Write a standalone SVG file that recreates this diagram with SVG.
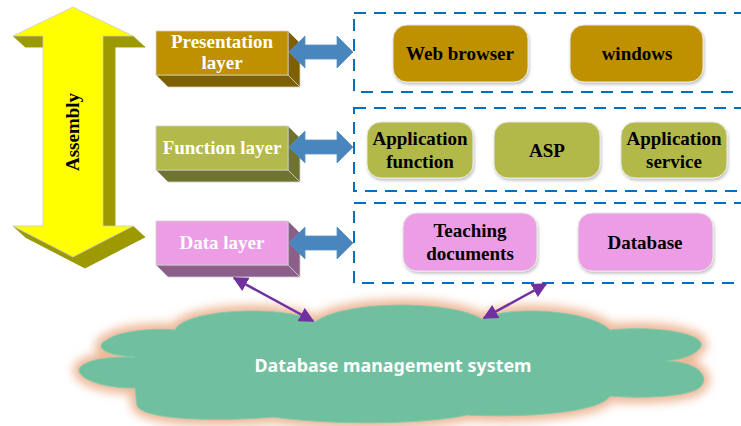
<svg xmlns="http://www.w3.org/2000/svg" width="741" height="426" viewBox="0 0 741 426">
<defs>
<style>
.lt{font-family:"Liberation Serif","Times New Roman",serif;font-weight:bold;font-size:19px;fill:#fff;text-anchor:middle}
.nt{font-family:"Liberation Serif","Times New Roman",serif;font-weight:bold;font-size:19px;fill:#000;text-anchor:middle}
.dash{fill:none;stroke:#0070C0;stroke-width:2;stroke-dasharray:12 8}
.edge{stroke:#d0d0d0;stroke-width:0.8}
.barrow{fill:#4A86BE;stroke:#5B8FC0;stroke-width:0.8}
.purple{stroke:#7030A0;stroke-width:2.5;fill:none;marker-start:url(#ph);marker-end:url(#ph)}
.pres{fill:#BF9000}
.func{fill:#B3B94A}
.data{fill:#EC9DE6}
.node{stroke:#e8e8e8;stroke-width:1;filter:url(#sh)}
</style>
<marker id="ph" viewBox="0 0 10 10" refX="9" refY="5" markerWidth="6" markerHeight="6" orient="auto-start-reverse" markerUnits="strokeWidth">
<path d="M0,0 L10,5 L0,10 Z" fill="#7030A0"/>
</marker>
<filter id="sh" x="-10%" y="-10%" width="130%" height="140%">
<feDropShadow dx="1" dy="2" stdDeviation="1.5" flood-color="#000" flood-opacity="0.25"/>
</filter>
<filter id="glow" x="-10%" y="-20%" width="120%" height="140%">
<feGaussianBlur stdDeviation="5"/>
</filter>
</defs>

<g id="assembly">
<g fill="#9C9A00" stroke="#9C9A00" stroke-width="0.5">
<polygon points="85,18 145,47 115,47 115,237 145,237 85,268 25,237 55,237 55,47 25,47"/>
<polygon points="13,36 43,36 55,47 25,47"/>
<polygon points="103,36 133,36 145,47 115,47"/>
<polygon points="103,36 103,226 115,237 115,47"/>
<polygon points="133,226 73,257 85,268 145,237"/>
<polygon points="73,257 13,226 25,237 85,268"/>
</g>
<polygon points="73,7 133,36 103,36 103,226 133,226 73,257 13,226 43,226 43,36 13,36" fill="#FFFF00" stroke="#cccccc" stroke-width="0.8"/>
<text x="0" y="0" transform="translate(79,132) rotate(-90)" style="font-family:'Liberation Serif','Times New Roman',serif;font-weight:bold;font-size:19px;fill:#000;text-anchor:middle">Assembly</text>
</g>

<g id="presentation-layer">
<polygon points="156,75 288,75 300,87 168,87" fill="#7F6000" class="edge"/>
<polygon points="288,31 300,43 300,87 288,75" fill="#7F6000" class="edge"/>
<rect x="156" y="31" width="132" height="44" class="pres edge"/>
<text class="lt" x="222" y="48">Presentation</text>
<text class="lt" x="222" y="69">layer</text>
</g>

<g id="function-layer">
<polygon points="156,170 288,170 300,182 168,182" fill="#6F7330" class="edge"/>
<polygon points="288,126 300,138 300,182 288,170" fill="#6F7330" class="edge"/>
<rect x="156" y="126" width="132" height="44" class="func edge"/>
<text class="lt" x="222" y="154">Function layer</text>
</g>

<g id="data-layer">
<polygon points="156,265 288,265 300,277 168,277" fill="#8E5E8A" class="edge"/>
<polygon points="288,221 300,233 300,277 288,265" fill="#8E5E8A" class="edge"/>
<rect x="156" y="221" width="132" height="44" class="data edge"/>
<text class="lt" x="222" y="249">Data layer</text>
</g>

<g id="presentation-group">
<rect x="354" y="13" width="400" height="79" class="dash"/>
</g>
<g id="function-group">
<rect x="354" y="108" width="400" height="83" class="dash"/>
</g>
<g id="data-group">
<rect x="354" y="203" width="400" height="80" class="dash"/>
</g>

<g id="web-browser">
<rect x="393" y="25" width="135" height="57" rx="14" class="pres node"/>
<text class="nt" x="460" y="60">Web browser</text>
</g>
<g id="windows">
<rect x="570" y="25" width="133" height="57" rx="14" class="pres node"/>
<text class="nt" x="637" y="60">windows</text>
</g>
<g id="application-function">
<rect x="367" y="122" width="106" height="56" rx="14" class="func node"/>
<text class="nt" x="420" y="145">Application</text>
<text class="nt" x="420" y="168">function</text>
</g>
<g id="asp">
<rect x="494" y="122" width="106" height="56" rx="14" class="func node"/>
<text class="nt" x="547" y="157">ASP</text>
</g>
<g id="application-service">
<rect x="621" y="122" width="106" height="56" rx="14" class="func node"/>
<text class="nt" x="674" y="145">Application</text>
<text class="nt" x="674" y="168">service</text>
</g>
<g id="teaching-documents">
<rect x="403" y="213" width="134" height="58" rx="14" class="data node"/>
<text class="nt" x="470" y="237">Teaching</text>
<text class="nt" x="470" y="260">documents</text>
</g>
<g id="database">
<rect x="578" y="213" width="135" height="58" rx="14" class="data node"/>
<text class="nt" x="645" y="249">Database</text>
</g>

<g id="dbms">
<path d="M175,330 C185,308 290,305 315,322 C345,300 450,300 482,319 C510,305 590,310 610,330 C660,325 715,335 698,350 C690,358 675,360 667,361 C705,362 715,385 690,392 C670,398 630,398 610,396 C600,412 530,418 467,415 C420,425 330,425 273,417 C220,422 140,420 137,405 L135,388 C90,388 70,372 83,365 C95,357 120,357 135,357 C100,355 95,345 107,340 C120,330 160,328 175,330 Z" fill="#EDB898" stroke="#EDB898" stroke-width="12" filter="url(#glow)"/>
<path d="M175,330 C185,308 290,305 315,322 C345,300 450,300 482,319 C510,305 590,310 610,330 C660,325 715,335 698,350 C690,358 675,360 667,361 C705,362 715,385 690,392 C670,398 630,398 610,396 C600,412 530,418 467,415 C420,425 330,425 273,417 C220,422 140,420 137,405 L135,388 C90,388 70,372 83,365 C95,357 120,357 135,357 C100,355 95,345 107,340 C120,330 160,328 175,330 Z" fill="#70BF9F" stroke="#86C8AC" stroke-width="1"/>
<text x="393" y="372" textLength="277" lengthAdjust="spacingAndGlyphs" style="font-family:'Noto Sans','Open Sans',sans-serif;font-weight:bold;font-size:17px;fill:#fff;text-anchor:middle">Database management system</text>
</g>

<g id="connectors">
<polygon class="barrow" points="289,52 305,36 305,45 337,45 337,36 353,52 337,68 337,59 305,59 305,68"/>
<polygon class="barrow" points="289,147 305,131 305,140 337,140 337,131 353,147 337,163 337,154 305,154 305,163"/>
<polygon class="barrow" points="289,243 305,227 305,236 337,236 337,227 353,243 337,259 337,250 305,250 305,259"/>
<line class="purple" x1="234" y1="278" x2="313" y2="321"/>
<line class="purple" x1="546" y1="284" x2="484" y2="318"/>
</g>
</svg>
